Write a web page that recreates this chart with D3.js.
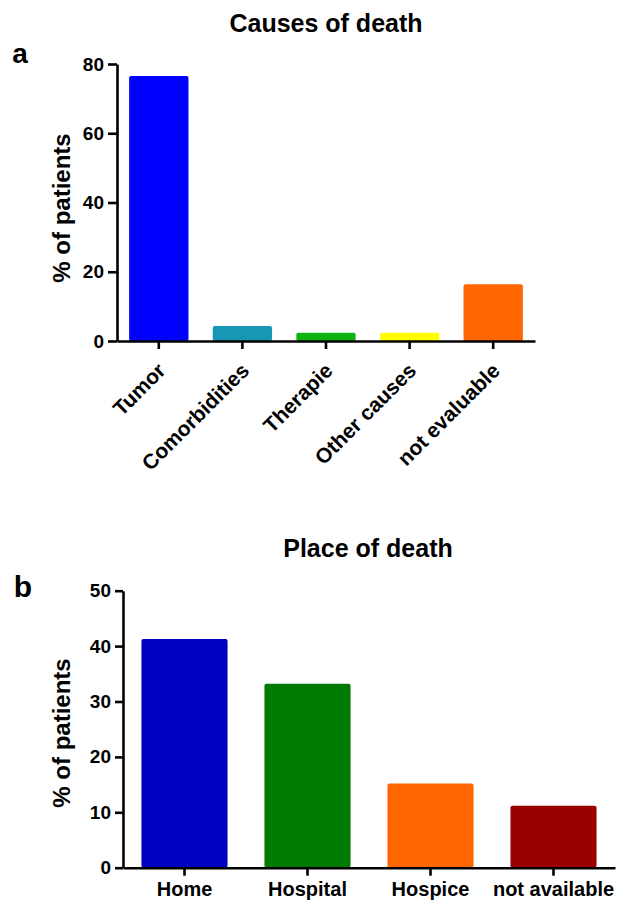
<!DOCTYPE html>
<html>
<head>
<meta charset="utf-8">
<script src="https://cdn.jsdelivr.net/npm/d3@7"></script>
<style>
  body { margin: 0; background: #fff; }
  svg text { font-family: "Liberation Sans", Arial, sans-serif; font-weight: bold; fill: #000; }
  .axis path, .axis line { stroke: #000; stroke-width: 2.6px; }
</style>
</head>
<body>
<script>
// data
var causeCats = ["Tumor", "Comorbidities", "Therapie", "Other causes", "not evaluable"];
var causeVals = [76.5, 4.3, 2.4, 2.4, 16.4];
var causeTicks = [0, 20, 40, 60, 80];
var causeColors = ["#0000ff", "#1797b3", "#0fb30f", "#ffff00", "#ff6600"];

var placeCats = ["Home", "Hospital", "Hospice", "not available"];
var placeVals = [41.3, 33.2, 15.2, 11.2];
var placeTicks = [0, 10, 20, 30, 40, 50];
var placeColors = ["#0000c0", "#007a00", "#ff6600", "#990000"];

var svg = d3.select("body").append("svg")
    .attr("width", 617)
    .attr("height", 901);

// ---------- panel a: causes of death ----------
var xA = d3.scaleBand().domain(causeCats).range([117, 535]).paddingInner(0.29).paddingOuter(0.145);
var yA = d3.scaleLinear().domain([0, 80]).range([341, 64]);
var colA = d3.scaleOrdinal().domain(causeCats).range(causeColors);

svg.append("text")
    .attr("x", 20).attr("y", 63)
    .attr("text-anchor", "middle")
    .style("font-size", "28px")
    .text("a");

svg.append("text")
    .attr("x", 326).attr("y", 32)
    .attr("text-anchor", "middle")
    .style("font-size", "25px")
    .text("Causes of death");

svg.selectAll(".barA")
    .data(causeCats)
  .enter().append("rect")
    .attr("class", "barA")
    .attr("x", function(d) { return xA(d); })
    .attr("width", xA.bandwidth())
    .attr("y", function(d, i) { return yA(causeVals[i]); })
    .attr("height", function(d, i) { return yA(0) - yA(causeVals[i]); })
    .attr("rx", 2)
    .attr("fill", function(d) { return colA(d); });

var yAxisA = svg.append("g")
    .attr("class", "axis")
    .attr("transform", "translate(117,0)")
    .call(d3.axisLeft(yA).tickValues(causeTicks).tickSize(9).tickSizeOuter(0).tickPadding(4));
yAxisA.selectAll("text").style("font-size", "19px");

var xAxisA = svg.append("g")
    .attr("class", "axis")
    .attr("transform", "translate(0,341)")
    .call(d3.axisBottom(xA).tickSize(8).tickSizeOuter(0));
// rotated category labels, ending just under each tick
xAxisA.selectAll("text")
    .style("font-size", "21px")
    .attr("text-anchor", "end")
    .attr("x", 0)
    .attr("y", 0)
    .attr("dy", 0)
    .attr("transform", "translate(8,31) rotate(-45)");

svg.append("text")
    .attr("transform", "translate(70,208) rotate(-90)")
    .attr("text-anchor", "middle")
    .style("font-size", "24px")
    .text("% of patients");

// ---------- panel b: place of death ----------
var xB = d3.scaleBand().domain(placeCats).range([123, 615]).paddingInner(0.3).paddingOuter(0.15);
var yB = d3.scaleLinear().domain([0, 50]).range([867.7, 590.7]);
var colB = d3.scaleOrdinal().domain(placeCats).range(placeColors);

svg.append("text")
    .attr("x", 23).attr("y", 597)
    .attr("text-anchor", "middle")
    .style("font-size", "30px")
    .text("b");

svg.append("text")
    .attr("x", 368).attr("y", 557)
    .attr("text-anchor", "middle")
    .style("font-size", "25px")
    .text("Place of death");

svg.selectAll(".barB")
    .data(placeCats)
  .enter().append("rect")
    .attr("class", "barB")
    .attr("x", function(d) { return xB(d); })
    .attr("width", xB.bandwidth())
    .attr("y", function(d, i) { return yB(placeVals[i]); })
    .attr("height", function(d, i) { return yB(0) - yB(placeVals[i]); })
    .attr("rx", 2)
    .attr("fill", function(d) { return colB(d); });

var yAxisB = svg.append("g")
    .attr("class", "axis")
    .attr("transform", "translate(123,0)")
    .call(d3.axisLeft(yB).tickValues(placeTicks).tickSize(8).tickSizeOuter(0).tickPadding(4));
yAxisB.selectAll("text").style("font-size", "19px");

var xAxisB = svg.append("g")
    .attr("class", "axis")
    .attr("transform", "translate(0,867.7)")
    .call(d3.axisBottom(xB).tickSize(8).tickSizeOuter(0).tickPadding(6));
xAxisB.selectAll("text").style("font-size", "20px");

svg.append("text")
    .attr("transform", "translate(70,733) rotate(-90)")
    .attr("text-anchor", "middle")
    .style("font-size", "24px")
    .text("% of patients");
</script>
</body>
</html>
